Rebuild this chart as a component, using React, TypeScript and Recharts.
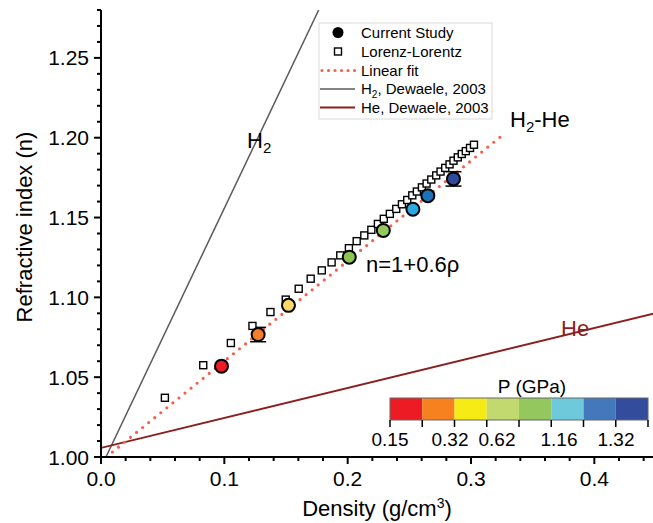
import { ComposedChart, Line, Scatter, XAxis, YAxis, ErrorBar } from 'recharts'

// Current study (filled circles, coloured by pressure)
const studyDensity = [0.0977, 0.1274, 0.152, 0.2013, 0.2289, 0.2529, 0.265, 0.2858]
const studyIndex = [1.0569, 1.0767, 1.095, 1.1252, 1.1419, 1.1552, 1.1637, 1.1742]
const studyError = [0, 0.0045, 0, 0, 0, 0, 0, 0.0045]
const studyColors = ['#ed1c24', '#f37f2a', '#fbd765', '#8dc450', '#94c85a', '#29aae1', '#1c72b8', '#2f4b9b']

// Lorenz-Lorentz (open squares)
const llDensity = [
  0.0518, 0.0829, 0.1053, 0.1228, 0.1374, 0.1498, 0.1603, 0.17, 0.179, 0.187, 0.194, 0.201,
  0.2073, 0.2135, 0.2192, 0.2245, 0.2293, 0.2342, 0.2394, 0.244, 0.2483, 0.2524, 0.2561,
  0.2602, 0.264, 0.2678, 0.2718, 0.2753, 0.2791, 0.2826, 0.2858, 0.2893, 0.2925, 0.2958,
  0.2992, 0.3024,
]
const llIndex = [
  1.0371, 1.0575, 1.0714, 1.0821, 1.0908, 1.0986, 1.1054, 1.1117, 1.1169, 1.1219, 1.1263,
  1.1308, 1.1352, 1.1388, 1.1423, 1.146, 1.1492, 1.1523, 1.1554, 1.1583, 1.161, 1.1639,
  1.1663, 1.1689, 1.1713, 1.1738, 1.1764, 1.1788, 1.1811, 1.1833, 1.1856, 1.1877, 1.1898,
  1.1916, 1.1936, 1.1956,
]

// lines
const fitDensity = [0.0043, 0.327]
const fitIndex = [1.0, 1.2025]
const h2Density = [0.004, 0.1765]
const h2Index = [1.0, 1.28]
const heDensity = [0, 0.45]
const heIndex = [1.0057, 1.0902]

// axes
const xTicks = [
  0, 0.02, 0.04, 0.06, 0.08, 0.1, 0.12, 0.14, 0.16, 0.18, 0.2, 0.22, 0.24, 0.26, 0.28, 0.3,
  0.32, 0.34, 0.36, 0.38, 0.4, 0.42, 0.44,
]
const yTicks = [
  1.0, 1.01, 1.02, 1.03, 1.04, 1.05, 1.06, 1.07, 1.08, 1.09, 1.1, 1.11, 1.12, 1.13, 1.14,
  1.15, 1.16, 1.17, 1.18, 1.19, 1.2, 1.21, 1.22, 1.23, 1.24, 1.25, 1.26, 1.27, 1.28,
]

// pressure colour bar
const pressureColors = ['#ed1c24', '#f7811f', '#f6eb14', '#c2d970', '#94c85e', '#6ecadb', '#4478bd', '#334d9c']
const pressureLabels = ['0.15', '0.32', '0.62', '1.16', '1.32']
const pressureLabelX = [390, 450, 497, 559, 616]

const zip = (xs: number[], ys: number[]) => xs.map((x, i) => ({ x, y: ys[i] }))

const studyData = studyDensity.map((x, i) => ({
  x,
  y: studyIndex[i],
  err: studyError[i],
  color: studyColors[i],
}))
const llData = zip(llDensity, llIndex)
const fitData = zip(fitDensity, fitIndex)
const h2Data = zip(h2Density, h2Index)
const heData = zip(heDensity, heIndex)

const isMajorX = (v: number) => Math.abs(v * 10 - Math.round(v * 10)) < 1e-6
const isMajorY = (v: number) => Math.round(v * 100) % 5 === 0

const FONT = '"Liberation Sans", Arial, sans-serif'

const LeftTick = (props: any) => {
  const { x, y, payload } = props
  const major = isMajorY(payload.value)
  return (
    <g>
      <line x1={x - (major ? 7 : 4)} x2={x} y1={y} y2={y} stroke="#000" strokeWidth={2} />
      {major && (
        <text x={x - 12} y={y} dy="0.36em" textAnchor="end" fontSize={21} fill="#000">
          {payload.value.toFixed(2)}
        </text>
      )}
    </g>
  )
}

const RightTick = (props: any) => {
  const { x, y, payload } = props
  const major = isMajorY(payload.value)
  return <line x1={x - (major ? 7 : 4)} x2={x} y1={y} y2={y} stroke="#000" strokeWidth={2} />
}

const BottomTick = (props: any) => {
  const { x, y, payload } = props
  const major = isMajorX(payload.value)
  return (
    <g>
      <line x1={x} x2={x} y1={y} y2={y + (major ? 7 : 4)} stroke="#000" strokeWidth={2} />
      {major && (
        <text x={x} y={y + 29} textAnchor="middle" fontSize={21} fill="#000">
          {payload.value.toFixed(1)}
        </text>
      )}
    </g>
  )
}

const TopTick = (props: any) => {
  const { x, y, payload } = props
  const major = isMajorX(payload.value)
  return <line x1={x} x2={x} y1={y} y2={y + (major ? 7 : 4)} stroke="#000" strokeWidth={2} />
}

const StudyDot = (props: any) => (
  <circle cx={props.cx} cy={props.cy} r={6.5} fill={props.payload.color} stroke="#000" strokeWidth={2} />
)

const SquareDot = (props: any) => (
  <rect x={props.cx - 3.5} y={props.cy - 3.5} width={7} height={7} fill="#fff" stroke="#000" strokeWidth={1.4} />
)

const FIT_COLOR = '#f4604d'
const H2_COLOR = '#5a5a5a'
const HE_COLOR = '#8b1f1f'

function Overlay() {
  const barX = 390
  const barW = 258
  const segW = barW / pressureColors.length
  const rows = [32.5, 51.5, 70.5, 89, 107.5]
  return (
    <svg
      width={653}
      height={523}
      style={{ position: 'absolute', left: 0, top: 0, pointerEvents: 'none', fontFamily: FONT }}
    >
      {/* legend */}
      <rect x={319} y={23} width={173} height={96} fill="#fff" stroke="#d9d9d9" strokeWidth={1} />
      <circle cx={338} cy={rows[0]} r={5.5} fill="#000" />
      <rect x={334.5} y={rows[1] - 3.5} width={7} height={7} fill="#fff" stroke="#000" strokeWidth={1.4} />
      <line x1={322} x2={355} y1={rows[2]} y2={rows[2]} stroke={FIT_COLOR} strokeWidth={3.2} strokeDasharray="0 6.5" strokeLinecap="round" />
      <line x1={320} x2={355} y1={rows[3]} y2={rows[3]} stroke={H2_COLOR} strokeWidth={1.5} />
      <line x1={320} x2={355} y1={rows[4]} y2={rows[4]} stroke={HE_COLOR} strokeWidth={1.8} />
      <g fontSize={15} fill="#000">
        <text x={361} y={rows[0]} dy="0.36em">Current Study</text>
        <text x={361} y={rows[1]} dy="0.36em">Lorenz-Lorentz</text>
        <text x={361} y={rows[2]} dy="0.36em">Linear fit</text>
        <text x={361} y={rows[3]} dy="0.36em">
          H<tspan fontSize={10} dy={4}>2</tspan>
          <tspan dy={-4}>, Dewaele, 2003</tspan>
        </text>
        <text x={361} y={rows[4]} dy="0.36em">He, Dewaele, 2003</text>
      </g>

      {/* annotations */}
      <text x={247} y={148} fontSize={22} fill="#000">
        H<tspan fontSize={15} dy={5}>2</tspan>
      </text>
      <text x={510} y={127} fontSize={22} fill="#000">
        H<tspan fontSize={15} dy={5}>2</tspan>
        <tspan dy={-5}>-He</tspan>
      </text>
      <text x={366} y={272} fontSize={22} fill="#000">n=1+0.6ρ</text>
      <text x={561} y={336} fontSize={22} fill={HE_COLOR}>He</text>

      {/* axis titles */}
      <text x={377} y={516} fontSize={22} fill="#000" textAnchor="middle">
        Density (g/cm<tspan fontSize={14} dy={-8}>3</tspan>
        <tspan dy={8}>)</tspan>
      </text>
      <text
        x={0}
        y={0}
        fontSize={22}
        fill="#000"
        textAnchor="middle"
        transform="translate(32 227) rotate(-90)"
      >
        Refractive index (n)
      </text>

      {/* pressure colour bar */}
      <text x={532} y={393} fontSize={19} fill="#000" textAnchor="middle">P (GPa)</text>
      {pressureColors.map((c, i) => (
        <rect key={c} x={barX + i * segW} y={398} width={segW} height={22} fill={c} />
      ))}
      <rect x={barX} y={398} width={barW} height={22} fill="none" stroke="#666" strokeWidth={1} />
      {pressureColors.concat(['end']).map((c, i) => (
        <line key={'t' + i} x1={barX + i * segW} x2={barX + i * segW} y1={420} y2={427} stroke="#000" strokeWidth={1.5} />
      ))}
      {pressureLabels.map((l, i) => (
        <text key={l} x={pressureLabelX[i]} y={446} fontSize={19} fill="#000" textAnchor="middle">
          {l}
        </text>
      ))}
    </svg>
  )
}

export default function App() {
  return (
    <div
      style={{
        position: 'fixed',
        left: 0,
        top: 0,
        width: 653,
        height: 523,
        overflow: 'hidden',
        background: '#fff',
        fontFamily: FONT,
      }}
    >
      <ComposedChart width={665} height={523} margin={{ top: 10, right: 9, left: 31, bottom: 0 }}>
        <XAxis
          xAxisId="b"
          dataKey="x"
          type="number"
          domain={[0, 0.45]}
          ticks={xTicks}
          interval={0}
          allowDataOverflow
          height={66}
          tickSize={0}
          tickMargin={0}
          tickLine={false}
          tick={<BottomTick />}
          axisLine={{ stroke: '#000', strokeWidth: 2 }}
        />
        <XAxis
          xAxisId="t"
          orientation="top"
          dataKey="x"
          type="number"
          domain={[0, 0.45]}
          ticks={xTicks}
          interval={0}
          allowDataOverflow
          height={0}
          tickSize={0}
          tickMargin={0}
          tickLine={false}
          tick={<TopTick />}
          axisLine={{ stroke: '#000', strokeWidth: 2 }}
        />
        <YAxis
          yAxisId="l"
          dataKey="y"
          type="number"
          domain={[1.0, 1.28]}
          ticks={yTicks}
          interval={0}
          allowDataOverflow
          width={70}
          tickSize={0}
          tickMargin={0}
          tickLine={false}
          tick={<LeftTick />}
          axisLine={{ stroke: '#000', strokeWidth: 2 }}
        />
        <YAxis
          yAxisId="r"
          orientation="right"
          dataKey="y"
          type="number"
          domain={[1.0, 1.28]}
          ticks={yTicks}
          interval={0}
          allowDataOverflow
          width={0}
          tickSize={0}
          tickMargin={0}
          tickLine={false}
          tick={<RightTick />}
          axisLine={{ stroke: '#000', strokeWidth: 2 }}
        />
        <Line
          xAxisId="b"
          yAxisId="l"
          data={h2Data}
          dataKey="y"
          type="linear"
          stroke={H2_COLOR}
          strokeWidth={1.5}
          dot={false}
          activeDot={false}
          isAnimationActive={false}
        />
        <Line
          xAxisId="b"
          yAxisId="l"
          data={heData}
          dataKey="y"
          type="linear"
          stroke={HE_COLOR}
          strokeWidth={1.8}
          dot={false}
          activeDot={false}
          isAnimationActive={false}
        />
        <Scatter
          xAxisId="b"
          yAxisId="l"
          data={llData}
          dataKey="y"
          shape={<SquareDot />}
          isAnimationActive={false}
        />
        <Line
          xAxisId="b"
          yAxisId="l"
          data={fitData}
          dataKey="y"
          type="linear"
          stroke={FIT_COLOR}
          strokeWidth={3.2}
          strokeDasharray="0 7.8"
          strokeLinecap="round"
          dot={false}
          activeDot={false}
          isAnimationActive={false}
        />
        <Scatter
          xAxisId="b"
          yAxisId="l"
          data={studyData}
          dataKey="y"
          shape={<StudyDot />}
          isAnimationActive={false}
        >
          <ErrorBar dataKey="err" direction="y" width={8} stroke="#000" strokeWidth={1.5} />
        </Scatter>
      </ComposedChart>
      <Overlay />
    </div>
  )
}
